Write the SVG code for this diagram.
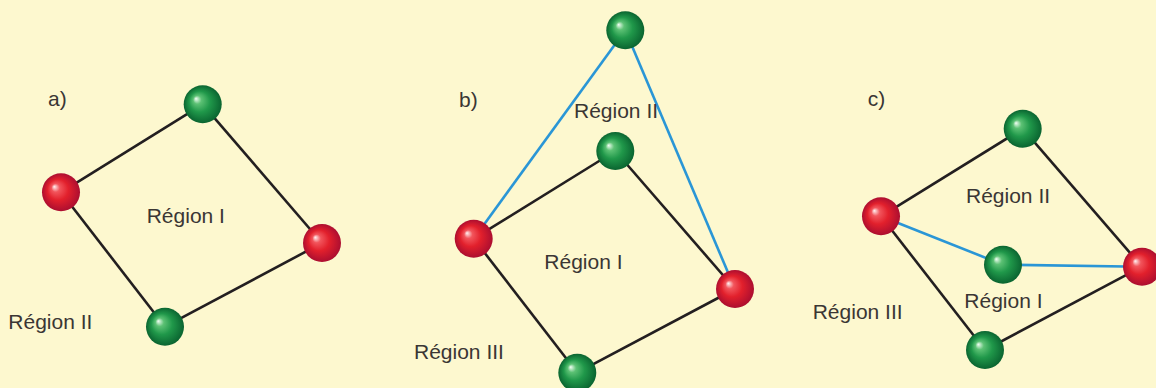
<svg xmlns="http://www.w3.org/2000/svg" width="1156" height="388" viewBox="0 0 1156 388">
<defs>
<radialGradient id="gG" cx="0.5" cy="0.5" r="0.5" fx="0.32" fy="0.35">
<stop offset="0" stop-color="#f4fff6"/>
<stop offset="0.22" stop-color="#5cc174"/>
<stop offset="0.55" stop-color="#20984a"/>
<stop offset="1" stop-color="#0a6430"/>
</radialGradient>
<radialGradient id="gR" cx="0.5" cy="0.5" r="0.5" fx="0.32" fy="0.35">
<stop offset="0" stop-color="#fff4f4"/>
<stop offset="0.22" stop-color="#f2555c"/>
<stop offset="0.55" stop-color="#e2202c"/>
<stop offset="1" stop-color="#ac0e30"/>
</radialGradient>
<style>
.k{stroke:#231f20;stroke-width:2.6;fill:none}
.b{stroke:#2a96d6;stroke-width:2.6;fill:none}
.g{fill:url(#gG)}
.r{fill:url(#gR)}
text{font-family:"Liberation Sans",Arial,sans-serif;font-size:21px;fill:#3a3634}
</style>
</defs>
<rect width="1156" height="388" fill="#fdf8cf"/>
<g id="connectors">
<line class="k" x1="61" y1="192.3" x2="202.7" y2="104.3"/>
<line class="k" x1="202.7" y1="104.3" x2="322" y2="243"/>
<line class="k" x1="322" y1="243" x2="165" y2="326.7"/>
<line class="k" x1="165" y1="326.7" x2="61" y2="192.3"/>
<line class="b" x1="473.7" y1="238.7" x2="625.3" y2="30.3"/>
<line class="b" x1="625.3" y1="30.3" x2="735" y2="289"/>
<line class="k" x1="473.7" y1="238.7" x2="615.3" y2="151"/>
<line class="k" x1="615.3" y1="151" x2="735" y2="289"/>
<line class="k" x1="735" y1="289" x2="577.3" y2="372.7"/>
<line class="k" x1="577.3" y1="372.7" x2="473.7" y2="238.7"/>
<line class="k" x1="881" y1="216.3" x2="1022.7" y2="128.7"/>
<line class="k" x1="1022.7" y1="128.7" x2="1142" y2="266.7"/>
<line class="k" x1="1142" y1="266.7" x2="985" y2="350"/>
<line class="k" x1="985" y1="350" x2="881" y2="216.3"/>
<line class="b" x1="881" y1="216.3" x2="1003" y2="264.7"/>
<line class="b" x1="1003" y1="264.7" x2="1142" y2="266.7"/>
</g>
<g id="panel-a">
<text x="48" y="106">a)</text>
<text x="146.7" y="222.7">Région I</text>
<text x="8.3" y="329.3">Région II</text>
</g>
<g id="a-g1"><circle class="g" cx="202.7" cy="104.3" r="19"/></g>
<g id="a-r1"><circle class="r" cx="61" cy="192.3" r="19"/></g>
<g id="a-r2"><circle class="r" cx="322" cy="243" r="19"/></g>
<g id="a-g2"><circle class="g" cx="165" cy="326.7" r="19"/></g>
<g id="panel-b">
<text x="459" y="106.7">b)</text>
<text x="574" y="118">Région II</text>
<text x="544.3" y="269.3">Région I</text>
<text x="414" y="359.3">Région III</text>
</g>
<g id="b-g0"><circle class="g" cx="625.3" cy="30.3" r="19"/></g>
<g id="b-g1"><circle class="g" cx="615.3" cy="151" r="19"/></g>
<g id="b-r1"><circle class="r" cx="473.7" cy="238.7" r="19"/></g>
<g id="b-r2"><circle class="r" cx="735" cy="289" r="19"/></g>
<g id="b-g2"><circle class="g" cx="577.3" cy="372.7" r="19"/></g>
<g id="panel-c">
<text x="867.7" y="106">c)</text>
<text x="966" y="203.3">Région II</text>
<text x="964.3" y="307.7">Région I</text>
<text x="812.7" y="319">Région III</text>
</g>
<g id="c-g1"><circle class="g" cx="1022.7" cy="128.7" r="19"/></g>
<g id="c-r1"><circle class="r" cx="881" cy="216.3" r="19"/></g>
<g id="c-g0"><circle class="g" cx="1003" cy="264.7" r="19"/></g>
<g id="c-r2"><circle class="r" cx="1142" cy="266.7" r="19"/></g>
<g id="c-g2"><circle class="g" cx="985" cy="350" r="19"/></g>
</svg>
